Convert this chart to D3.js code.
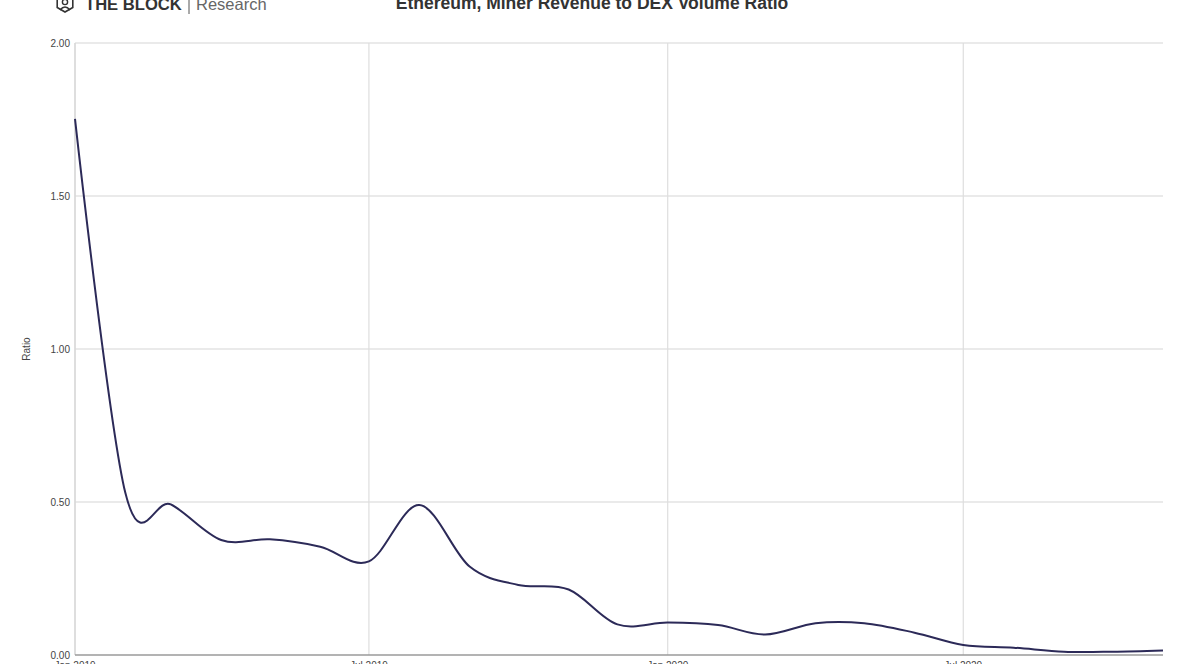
<!DOCTYPE html>
<html>
<head>
<meta charset="utf-8">
<script src="https://cdn.jsdelivr.net/npm/d3@7"></script>
<style>
  html, body { margin: 0; padding: 0; background: #fff; }
  svg { display: block; }
</style>
</head>
<body>
<svg id="chart" width="1187" height="664"></svg>
<script>
// ---- data ----
const months = ["2019-01-01","2019-02-01","2019-03-01","2019-04-01","2019-05-01","2019-06-01",
  "2019-07-01","2019-08-01","2019-09-01","2019-10-01","2019-11-01","2019-12-01",
  "2020-01-01","2020-02-01","2020-03-01","2020-04-01","2020-05-01","2020-06-01",
  "2020-07-01","2020-08-01","2020-09-01","2020-10-01","2020-11-01"];
const ratio = [1.752, 0.53, 0.492, 0.376, 0.378, 0.354,
  0.306, 0.490, 0.289, 0.229, 0.214, 0.100,
  0.106, 0.098, 0.067, 0.104, 0.104, 0.073,
  0.033, 0.024, 0.011, 0.011, 0.015];
const yTicks = [0, 0.5, 1.0, 1.5, 2.0];
const xTickDates = ["2019-01-01","2019-07-01","2020-01-01","2020-07-01"];
const xTickLabels = ["Jan 2019","Jul 2019","Jan 2020","Jul 2020"];
const chartTitle = "Ethereum, Miner Revenue to DEX Volume Ratio";
const yTitle = "Ratio";

// ---- layout ----
const svg = d3.select("#chart");
const mLeft = 75, mRight = 1163, mTop = 43, mBottom = 655;
const parse = d3.utcParse("%Y-%m-%d");
const data = months.map((m, i) => ({ d: parse(m), v: ratio[i] }));

const x = d3.scaleUtc().domain([parse(months[0]), parse(months[months.length - 1])]).range([mLeft, mRight]);
const y = d3.scaleLinear().domain([0, 2]).range([mBottom, mTop]);

const font = "'Liberation Sans', Arial, sans-serif";

// gridlines horizontal
svg.append("g").selectAll("line").data(yTicks.filter(t => t > 0)).join("line")
  .attr("x1", mLeft).attr("x2", mRight)
  .attr("y1", d => y(d)).attr("y2", d => y(d))
  .attr("stroke", "#e3e3e3").attr("stroke-width", 1.3);

// vertical gridlines
svg.append("g").selectAll("line").data(xTickDates.map(parse)).join("line")
  .attr("x1", d => x(d)).attr("x2", d => x(d))
  .attr("y1", mTop).attr("y2", mBottom)
  .attr("stroke", "#dedede").attr("stroke-width", 1.2);

// left axis line
svg.append("line").attr("x1", mLeft).attr("x2", mLeft).attr("y1", mTop).attr("y2", mBottom)
  .attr("stroke", "#d6d6d6").attr("stroke-width", 1.2);

// bottom axis line
svg.append("line").attr("x1", mLeft).attr("x2", mRight).attr("y1", mBottom).attr("y2", mBottom)
  .attr("stroke", "#9a9a9a").attr("stroke-width", 1.5);

// y tick labels
svg.append("g").selectAll("text").data(yTicks).join("text")
  .attr("x", mLeft - 5).attr("y", d => y(d)).attr("dy", "0.35em")
  .attr("text-anchor", "end")
  .attr("font-family", font).attr("font-size", 10).attr("fill", "#444")
  .text(d => d3.format(".2f")(d));

// x tick labels (partly cut by the bottom edge, as in the reference)
svg.append("g").selectAll("text").data(xTickDates).join("text")
  .attr("x", (d) => x(parse(d))).attr("y", 669)
  .attr("text-anchor", "middle")
  .attr("font-family", font).attr("font-size", 10).attr("fill", "#444")
  .text((d, i) => xTickLabels[i]);

// y axis title
svg.append("text")
  .attr("transform", `translate(30,${(mTop + mBottom) / 2}) rotate(-90)`)
  .attr("text-anchor", "middle")
  .attr("font-family", font).attr("font-size", 10).attr("fill", "#444")
  .text(yTitle);

// title
svg.append("text")
  .attr("x", 592).attr("y", 9)
  .attr("text-anchor", "middle")
  .attr("font-family", font).attr("font-size", 17.5).attr("font-weight", "bold").attr("fill", "#333")
  .text(chartTitle);

// logo
const logo = svg.append("g");
const cx = 65, cy = 3, r = 9;
const hex = d3.range(6).map(k => {
  const a = Math.PI / 3 * k + Math.PI / 6;
  return [cx + r * Math.cos(a), cy + r * Math.sin(a)];
});
logo.append("path").attr("d", "M" + hex.join("L") + "Z")
  .attr("fill", "none").attr("stroke", "#333").attr("stroke-width", 1.6);
logo.append("circle").attr("cx", cx).attr("cy", cy - 1).attr("r", 2.6)
  .attr("fill", "none").attr("stroke", "#333").attr("stroke-width", 1.4);
logo.append("path").attr("d", `M${cx - 5},${cy + 7} Q${cx},${cy + 1} ${cx + 5},${cy + 7}`)
  .attr("fill", "none").attr("stroke", "#333").attr("stroke-width", 1.4);
logo.append("text").attr("x", 85).attr("y", 10)
  .attr("font-family", font).attr("font-size", 16.6).attr("font-weight", "bold").attr("fill", "#333")
  .text("THE BLOCK");
logo.append("line").attr("x1", 189).attr("x2", 189).attr("y1", -2).attr("y2", 14)
  .attr("stroke", "#555").attr("stroke-width", 1);
logo.append("text").attr("x", 196).attr("y", 10)
  .attr("font-family", font).attr("font-size", 16.5).attr("fill", "#666")
  .text("Research");

// line
const line = d3.line().x(d => x(d.d)).y(d => y(d.v)).curve(d3.curveCardinal.tension(0));
svg.append("path").datum(data)
  .attr("d", line)
  .attr("fill", "none").attr("stroke", "#2c2a58").attr("stroke-width", 2);
</script>
</body>
</html>
